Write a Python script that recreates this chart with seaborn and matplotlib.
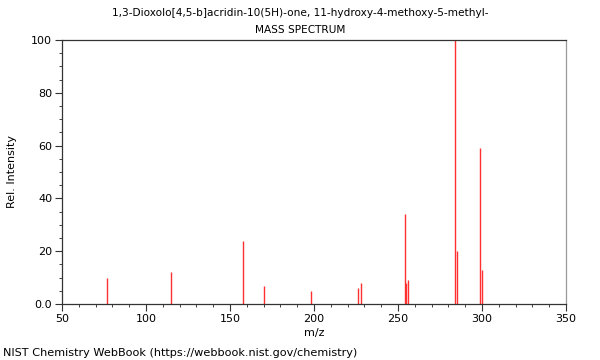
import matplotlib
matplotlib.use("Agg")
import matplotlib.pyplot as plt
import seaborn as sns
from matplotlib.ticker import MultipleLocator, FixedLocator

# peaks
mz = [77, 115, 158, 170, 198, 226, 228, 254, 255, 256, 284, 285, 299, 300]
intensity = [10, 12, 24, 7, 5, 6, 8, 34, 8, 9, 100, 20, 59, 13]

x_ticks = [50, 100, 150, 200, 250, 300, 350]
y_ticks = [0, 20, 40, 60, 80, 100]
y_tick_labels = ["0.0", "20", "40", "60", "80", "100"]

sns.set_style("ticks")
plt.rcParams["font.family"] = ["DejaVu Sans"]
plt.rcParams["font.size"] = 8
plt.rcParams["text.color"] = "black"
plt.rcParams["axes.labelcolor"] = "black"
plt.rcParams["xtick.color"] = "black"
plt.rcParams["ytick.color"] = "black"

fig = plt.figure(figsize=(6, 3.6), dpi=100)
ax = fig.add_axes([62 / 600, 1 - 304 / 360, 504 / 600, 264 / 360])

ax.vlines(mz, 0, intensity, color="#ff3030", linewidth=1)

ax.set_xlim(50, 350)
ax.set_ylim(0, 100)
ax.xaxis.set_major_locator(FixedLocator(x_ticks))
ax.xaxis.set_minor_locator(MultipleLocator(10))
ax.yaxis.set_major_locator(FixedLocator(y_ticks))
ax.yaxis.set_minor_locator(MultipleLocator(5))
ax.set_yticklabels(y_tick_labels)
ax.tick_params(which="major", direction="out", length=5, width=0.8, labelsize=8, color="#333333", pad=2)
ax.tick_params(which="minor", direction="out", length=2.5, width=0.7, color="#444444")

for s in ax.spines.values():
    s.set_color("#333333")
    s.set_linewidth(0.9)
ax.spines["right"].set_color("#999999")

ax.set_xlabel("m/z", fontsize=8, labelpad=3)
ax.set_ylabel("Rel. Intensity", fontsize=8, labelpad=10)

fig.text(0.5, 1 - 13 / 360, "1,3-Dioxolo[4,5-b]acridin-10(5H)-one, 11-hydroxy-4-methoxy-5-methyl-",
         ha="center", va="center", fontsize=7.6)
fig.text(0.5, 1 - 30 / 360, "MASS SPECTRUM", ha="center", va="center", fontsize=7.6)
fig.text(3 / 600, 1 - 353 / 360, "NIST Chemistry WebBook (https://webbook.nist.gov/chemistry)",
         ha="left", va="center", fontsize=8.1)

fig.savefig("out.png", dpi=100)
